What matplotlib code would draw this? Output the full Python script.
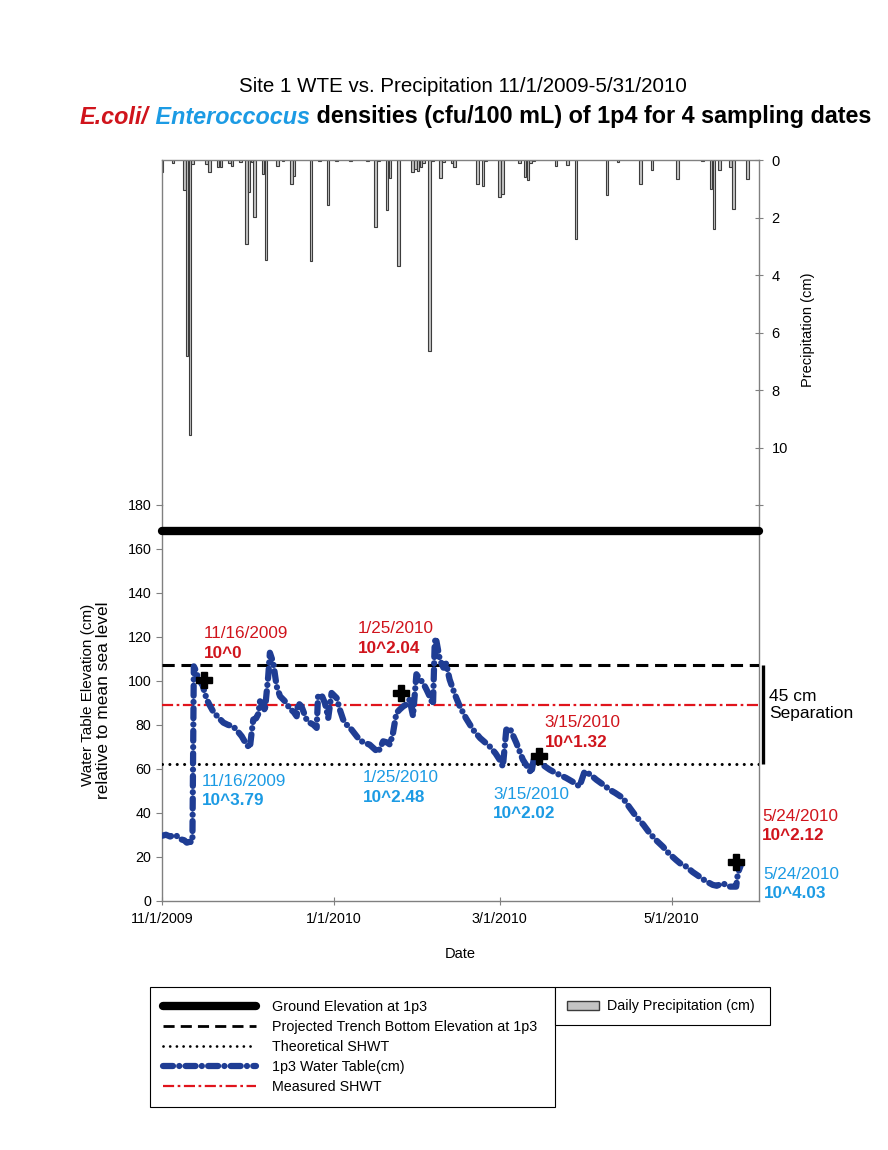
import numpy as np
import pandas as pd
import matplotlib
matplotlib.use("Agg")
import matplotlib.pyplot as plt
import matplotlib.dates as mdates
from matplotlib.lines import Line2D
from matplotlib.patches import Patch

plt.rcParams['font.family'] = ['Liberation Sans', 'DejaVu Sans']

start = pd.Timestamp('2009-11-01')
end = pd.Timestamp('2010-06-01')

# daily precipitation (cm), day number counted from 11/1/2009
rain_day = [0, 4, 8, 9, 10, 11, 16, 17, 20, 21, 24, 25, 28, 30, 31, 32, 33, 36, 37,
            41, 43, 46, 47, 53, 56, 59, 62, 67, 73, 76, 77, 80, 81, 84, 89, 90, 91,
            92, 93, 95, 96, 99, 100, 103, 104, 112, 114, 115, 120, 121, 127, 129,
            130, 131, 132, 140, 144, 147, 158, 162, 170, 174, 183, 192, 195, 196,
            198, 202, 203, 208]
rain_cm = [0.4, 0.12, 1.06, 6.81, 9.56, 0.15, 0.15, 0.42, 0.25, 0.25, 0.1, 0.2, 0.08,
           2.92, 1.12, 0.08, 1.99, 0.5, 3.48, 0.2, 0.05, 0.83, 0.57, 3.5, 0.05, 1.56,
           0.03, 0.05, 0.05, 2.32, 0.05, 1.74, 0.62, 3.68, 0.4, 0.3, 0.38, 0.25, 0.1,
           6.66, 0.05, 0.63, 0.08, 0.1, 0.25, 0.83, 0.89, 0.05, 1.3, 1.18, 0.1, 0.6,
           0.69, 0.1, 0.05, 0.2, 0.16, 2.75, 1.2, 0.08, 0.83, 0.35, 0.66, 0.03, 1.0,
           2.4, 0.35, 0.25, 1.7, 0.66]

# 1p3 water table (cm), day number counted from 11/1/2009
wt_day = [0, 1.5, 3, 4.5, 5.3, 6.5, 8, 8.9, 10, 10.6, 10.9, 11.4, 12, 13, 14.5, 16,
          17, 18.3, 20, 21.9, 23.5, 25.4, 27, 28.4, 30.1, 31.3, 31.9, 32.5, 33.5,
          34.3, 34.9, 36.1, 36.6, 37.8, 38.4, 39.6, 40.8, 42, 44.3, 45.5, 46.7, 47.9,
          48.4, 49.6, 51.4, 52.5, 53.8, 55, 55.5, 56.7, 57.9, 58.5, 59.1, 60.3, 62.1,
          63.2, 64.4, 66, 67.4, 69.7, 71.5, 73.8, 75.5, 76.8, 78.6, 80, 81, 82.1,
          83.3, 84.5, 85.7, 86.5, 88, 89.2, 90.4, 91.5, 92.8, 94, 95.1, 96.3, 96.9,
          97.3, 98.7, 100, 101, 101.6, 102.2, 104, 105.8, 108, 110.5, 113, 116.4,
          118.5, 120, 121.1, 122.3, 123.5, 125.9, 128.2, 130, 131.2, 132, 133, 135,
          137.7, 140, 143.6, 146, 148.3, 150.1, 152, 154.3, 157, 159, 161, 163.7,
          166, 168.4, 171, 173.2, 175.5, 177.9, 180, 182.6, 184, 186.2, 188.5,
          190.9, 193, 195.6, 197, 199.2, 201.5, 203.9, 204.5, 205.5]
wt_cm = [29.5, 30, 29.2, 30, 29.5, 28, 27.5, 26.4, 26.8, 26.6, 27, 106.6, 105, 101,
         98, 91.5, 89, 86, 83.5, 81, 80, 79.3, 77, 74.8, 71, 69.5, 76.3, 82.4, 83,
         85, 90.7, 89.2, 86.1, 102, 112.8, 108.2, 97.5, 93, 90, 87, 86.1, 83.9, 90,
         88.4, 82.4, 81, 80.1, 78.6, 93, 93.7, 90, 86.9, 83.1, 94.5, 92.2, 87, 82.4,
         79.5, 77.8, 74, 72, 71, 69, 67.5, 72.5, 72, 71, 76.3, 85.4, 87, 88.4, 89,
         91.5, 84, 103, 101, 99, 96, 93, 89.2, 117.3, 119.6, 109.7, 106, 108, 104,
         100.6, 94, 88.4, 83, 77.8, 74, 70.2, 67, 64, 61, 77.8, 78.6, 71.7, 64.1,
         60.5, 58, 64, 64.1, 62, 59.6, 58, 55.8, 54, 52, 58.8, 57.5, 55, 52.5, 50.5,
         49, 46.7, 42.5, 38.3, 34.5, 30.7, 27.5, 24.6, 21.5, 18.5, 17, 15.5, 13,
         10.9, 9, 7.2, 6.8, 7.9, 6.4, 6.4, 12.5, 16]

ground_elev = 168
trench_bottom = 107
measured_shwt = 89
theoretical_shwt = 62

sample_dates = ['2009-11-16', '2010-01-25', '2010-03-15', '2010-05-24']
sample_wt = [100.6, 94.5, 65.6, 17.8]
ecoli = ['10^0', '10^2.04', '10^1.32', '10^2.12']
entero = ['10^3.79', '10^2.48', '10^2.02', '10^4.03']
# where each label block starts (day number, top of text in cm)
ecoli_pos = [(14.8, 124.8), (69.7, 127.1), (135.9, 84.4), (213.1, 41.8)]
entero_pos = [(14.2, 57.8), (71.5, 59.3), (117.6, 51.7), (213.6, 15.3)]

red = '#D0141C'
blue_txt = '#1C9BE4'
blue_wt = '#1F3D94'
grey = '#808080'

def day2date(d):
    return start + pd.to_timedelta(np.asarray(d, dtype=float), unit='D')

fig = plt.figure(figsize=(8.88, 11.5), dpi=100)
W, H = 888, 1150
x0, x1 = 161.7 / W, 759 / W
ax_p = fig.add_axes([x0, 1 - 505 / H, x1 - x0, 345 / H])
ax_w = fig.add_axes([x0, 1 - 900.7 / H, x1 - x0, 395.7 / H], sharex=ax_p)
for a in (ax_p, ax_w):
    a.patch.set_alpha(0)
    for s in a.spines.values():
        s.set_color(grey)
        s.set_linewidth(1.0)

# precipitation bars hanging from the top
ax_p.bar(day2date(rain_day), rain_cm, width=0.95, color='#c4c4c4',
         edgecolor='#3c3c3c', linewidth=0.8)
ax_p.set_ylim(12, 0)
ax_p.spines['bottom'].set_visible(False)
ax_p.yaxis.tick_right()
ax_p.set_yticks(range(0, 13, 2))
ax_p.set_yticklabels(['0', '2', '4', '6', '8', '10', ''])
ax_p.tick_params(axis='y', direction='inout', length=6, color=grey, pad=6,
                 labelsize=10.5)
ax_p.tick_params(axis='x', bottom=False, labelbottom=False)

# water table panel
ax_w.spines['top'].set_visible(False)
ax_w.set_ylim(0, 180)
ax_w.set_yticks(range(0, 181, 20))
ax_w.tick_params(axis='y', direction='out', length=4, color=grey, labelsize=10.3,
                 right=False)
ax_w.set_xlim(start, end)
ax_w.set_xticks([pd.Timestamp(d) for d in ['2009-11-01', '2010-01-01', '2010-03-01', '2010-05-01']])
ax_w.xaxis.set_major_formatter(
    plt.FuncFormatter(lambda v, p: '{0.month}/{0.day}/{0.year}'.format(mdates.num2date(v))))
ax_w.tick_params(axis='x', direction='inout', length=6, color=grey, labelsize=10.3, pad=5)
ax_w.set_xlabel('Date', fontsize=10.5, labelpad=15)

xs = [start, end]
ax_w.plot(xs, [ground_elev] * 2, color='black', lw=6, solid_capstyle='round',
          clip_on=False, zorder=3)
ax_w.plot(xs, [trench_bottom] * 2, color='black', lw=2.2, dashes=(4, 2.2), zorder=3)
ax_w.plot(xs, [theoretical_shwt] * 2, color='black', lw=2.2, dashes=(0.01, 2.4),
          dash_capstyle='round', zorder=3)
ax_w.plot(xs, [measured_shwt] * 2, color='#E0141C', lw=1.6, dashes=(5, 1.6, 1.2, 1.6),
          zorder=3)
wt_style = dict(color=blue_wt, lw=4.5, dashes=(1.6, 1.0, 0.01, 1.0),
                dash_capstyle='round')
ax_w.plot(day2date(wt_day), wt_cm, zorder=4, **wt_style)
ax_w.plot(pd.to_datetime(sample_dates), sample_wt, 'P', color='black', ms=11,
          zorder=5, clip_on=False)

# 45 cm separation bracket
sep_x = end + pd.Timedelta(days=1.4)
ax_w.plot([sep_x, sep_x], [theoretical_shwt, trench_bottom], color='black', lw=2.4,
          clip_on=False, solid_capstyle='butt')
ax_w.text(end + pd.Timedelta(days=3.6), 96.5, '45 cm\nSeparation', fontsize=12.5,
          va='top', ha='left', linespacing=1.2, clip_on=False)

for (d, top), lab, dt in zip(ecoli_pos, ecoli, sample_dates):
    t = pd.Timestamp(dt)
    ax_w.text(day2date(d), top, f'{t.month}/{t.day}/{t.year}', color=red,
              fontsize=12.3, va='top', ha='left', clip_on=False)
    ax_w.text(day2date(d), top - 8.8, lab, color=red, fontsize=12.3,
              fontweight='bold', va='top', ha='left', clip_on=False)
for (d, top), lab, dt in zip(entero_pos, entero, sample_dates):
    t = pd.Timestamp(dt)
    ax_w.text(day2date(d), top, f'{t.month}/{t.day}/{t.year}', color=blue_txt,
              fontsize=12.3, va='top', ha='left', clip_on=False)
    ax_w.text(day2date(d), top - 8.8, lab, color=blue_txt, fontsize=12.3,
              fontweight='bold', va='top', ha='left', clip_on=False)

# axis titles
fig.text(88 / W, 1 - 695 / H, 'Water Table Elevation (cm)', rotation=90,
         fontsize=11, ha='center', va='center')
fig.text(103 / W, 1 - 700 / H, 'relative to mean sea level', rotation=90,
         fontsize=12.5, ha='center', va='center')
fig.text(808 / W, 1 - 330 / H, 'Precipitation (cm)', rotation=90,
         fontsize=10.5, ha='center', va='center')

# titles
fig.text(463 / W, 1 - 87 / H, 'Site 1 WTE vs. Precipitation 11/1/2009-5/31/2010',
         fontsize=14.8, ha='center', va='center')
t1 = fig.text(80 / W, 1 - 117 / H, 'E.coli/', color=red, fontsize=16.8,
              fontweight='bold', style='italic', ha='left', va='center')
t2 = ax_w.annotate(' Enteroccocus', xy=(1, 0), xycoords=t1, va='bottom', ha='left',
                   color=blue_txt, fontsize=16.8, fontweight='bold', style='italic',
                   annotation_clip=False)
ax_w.annotate(' densities (cfu/100 mL) of 1p4 for 4 sampling dates', xy=(1, 0),
              xycoords=t2, va='bottom', ha='left', color='black', fontsize=16.8,
              fontweight='bold', annotation_clip=False)

# legends
handles = [
    Line2D([], [], color='black', lw=6, solid_capstyle='round'),
    Line2D([], [], color='black', lw=2, dashes=(4, 2.2)),
    Line2D([], [], color='black', lw=2, dashes=(0.01, 2.4), dash_capstyle='round'),
    Line2D([], [], **wt_style),
    Line2D([], [], color='#E0141C', lw=1.6, dashes=(5, 1.6, 1.2, 1.6)),
]
labels = ['Ground Elevation at 1p3', 'Projected Trench Bottom Elevation at 1p3',
          'Theoretical SHWT', '1p3 Water Table(cm)', 'Measured SHWT']
leg1 = fig.legend(handles, labels, loc='upper left',
                  bbox_to_anchor=(150 / W, 1 - 987 / H, 405 / W, 0), mode='expand',
                  borderaxespad=0, fontsize=10.3, handlelength=6.5, handletextpad=1.1,
                  labelspacing=0.42, borderpad=0.9, fancybox=False,
                  edgecolor='black', framealpha=1)
leg1.get_frame().set_linewidth(0.8)
leg2 = fig.legend([Patch(facecolor='#c4c4c4', edgecolor='#3c3c3c')],
                  ['Daily Precipitation (cm)'], loc='upper left',
                  bbox_to_anchor=(555 / W, 1 - 987 / H, 215 / W, 0), mode='expand',
                  borderaxespad=0, fontsize=10.3, handlelength=2.2, handleheight=0.6,
                  handletextpad=0.6, borderpad=0.85, fancybox=False,
                  edgecolor='black', framealpha=1)
leg2.get_frame().set_linewidth(0.8)

fig.savefig('out.png', dpi=100)
